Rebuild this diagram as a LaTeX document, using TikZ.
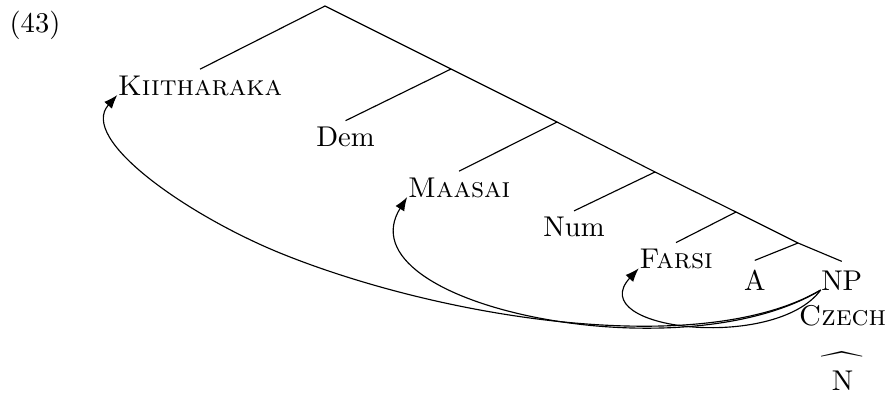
\documentclass[tikz,border=0pt]{standalone}
\usepackage{amsmath}
\usepackage{amssymb}
\usepackage{tikz}
\usetikzlibrary{arrows.meta}

\begin{document}
\begin{tikzpicture}[x=0.35pt, y=-0.35pt,
  leaf/.style={anchor=base, inner xsep=0pt, inner ysep=2pt},
  move/.style={-{Latex}}]

\useasboundingbox (0,0) rectangle (888,392);

\node[leaf] (ex) at (35,32) {(43)};

\coordinate (root) at (325,6);
\coordinate (s1) at (451,69);
\coordinate (s2) at (557,122);
\coordinate (s3) at (655,172);
\coordinate (s4) at (736,212);
\coordinate (s5) at (798,243);

\node[leaf] (kiit) at (200,95) {\textsc{Kiitharaka}};
\node[leaf] (dem) at (345.5,146.5) {Dem};
\node[leaf] (maas) at (459,197) {\textsc{Maasai}};
\node[leaf] (num) at (574,236.7) {Num};
\node[leaf] (fars) at (676,268.3) {\textsc{Farsi}};
\node[leaf, inner ysep=3pt] (a) at (754.7,290) {A};
\node[leaf, inner ysep=3pt] (np) at (841.7,290) {NP};
\node[leaf] (czech) at (842.5,325.5) {\textsc{Czech}};
\node[leaf, inner ysep=0pt] (n) at (842.5,390) {\shortstack{$\widehat{\hphantom{\mathrm{NN}}}$\\[-4pt]N}};

\path[draw] (root) -- (kiit.north);
\path[draw] (root) -- (s1) -- (s2) -- (s3) -- (s4) -- (s5) -- (np.north);
\path[draw] (s1) -- (dem.north);
\path[draw] (s2) -- (maas.north);
\path[draw] (s3) -- (num.north);
\path[draw] (s4) -- (fars.north);
\path[draw] (s5) -- (a.north);

\path[draw, move] (np.base west) .. controls (700,360) and (440,318) .. (280,253)
  .. controls (187,215) and (78,139) .. (kiit.base west);
\path[draw, move] (np.base west) .. controls (680,375) and (340,305) .. (maas.base west);
\path[draw, move] (np.base west) .. controls (775,352) and (582,330) .. (fars.base west);

\end{tikzpicture}
\end{document}
